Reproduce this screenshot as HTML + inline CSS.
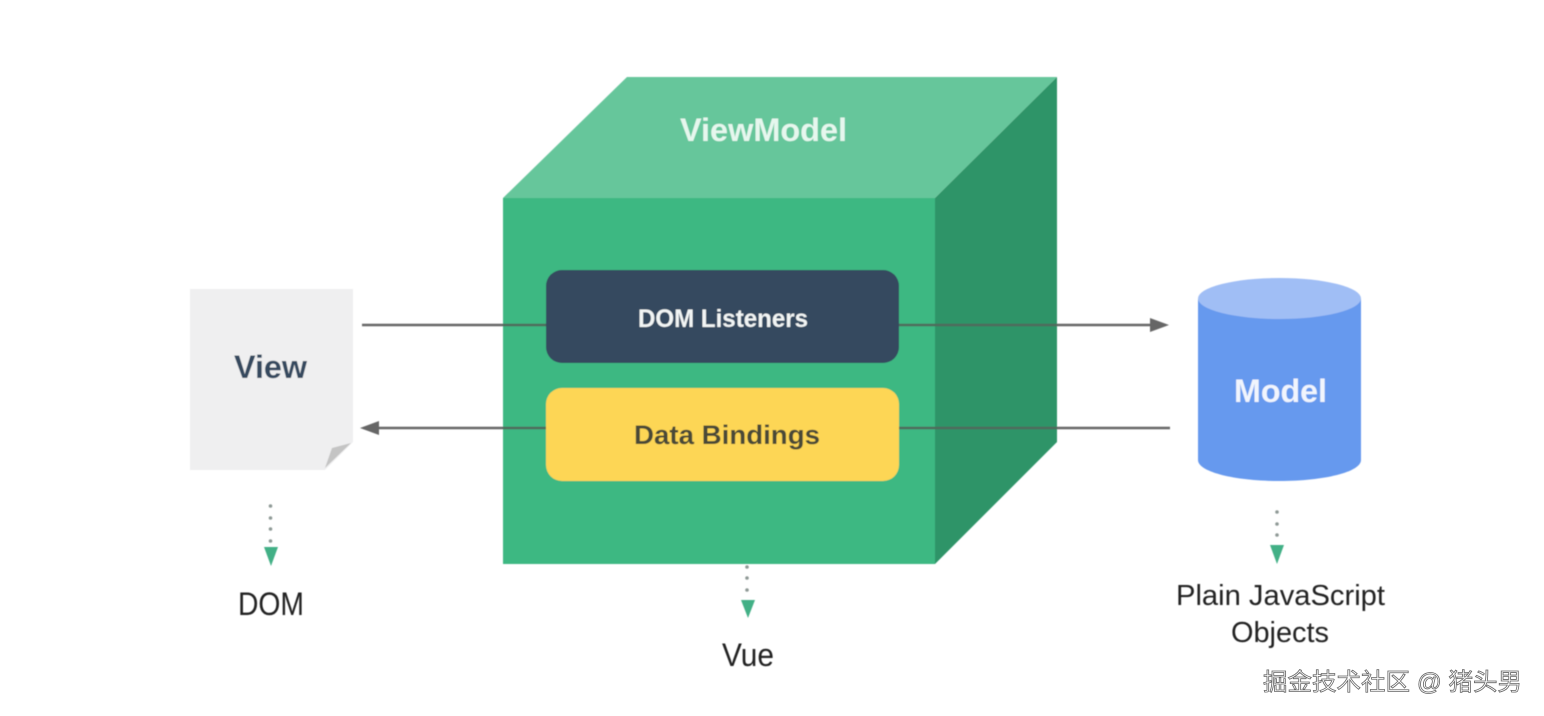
<!DOCTYPE html>
<html lang="zh">
<head>
<meta charset="utf-8">
<title>MVVM diagram</title>
<style>
html,body{margin:0;padding:0;background:#fff;width:1544px;height:716px;overflow:hidden}
svg{display:block}
text{font-family:"Liberation Sans","Noto Sans CJK SC",sans-serif}
</style>
</head>
<body>
<svg width="1544" height="716" viewBox="0 0 1544 716" xmlns="http://www.w3.org/2000/svg">
  <defs><filter id="soft" x="-2%" y="-2%" width="104%" height="104%"><feGaussianBlur stdDeviation="0.5"/></filter></defs>
  <rect width="1544" height="716" fill="#fff"/>

  <g filter="url(#soft)">
  <!-- Cube -->
  <polygon points="503,198 627,77 1057,77 935,198" fill="#66c69b"/>
  <polygon points="935,198 1057,77 1057,442 935,564" fill="#2f9468"/>
  <rect x="503" y="198" width="432" height="366" fill="#3eb882"/>

  <!-- Connectors -->
  <g stroke="#666" stroke-width="2.6" fill="none">
    <line x1="362" y1="325" x2="503" y2="325"/>
    <line x1="1057" y1="325" x2="1152" y2="325"/>
    <line x1="376" y1="428" x2="503" y2="428"/>
    <line x1="1057" y1="428" x2="1170" y2="428"/>
  </g>
  <g stroke="#4f6a5c" stroke-width="2.4" fill="none">
    <line x1="503" y1="325" x2="548" y2="325"/>
    <line x1="897" y1="325" x2="1057" y2="325"/>
    <line x1="503" y1="428" x2="548" y2="428"/>
    <line x1="897" y1="428" x2="1057" y2="428"/>
  </g>
  <polygon points="1169,325 1150,318 1150,332" fill="#666"/>
  <polygon points="360,428 379,421 379,435" fill="#666"/>

  <!-- Inner boxes -->
  <rect x="546" y="270" width="353" height="93" rx="16" fill="#35495e"/>
  <rect x="546" y="388" width="353" height="93" rx="16" fill="#fdd655"/>

  <!-- View page -->
  <polygon points="190,289 353,289 353,442 325,470 190,470" fill="#efeff0"/>
  <polygon points="325,468 351,443 332,448" fill="#c4c4c4"/>

  <!-- Model cylinder -->
  <path d="M1198,299 V460 C1198,472 1235,481 1279.5,481 C1324,481 1361,472 1361,460 V299 Z" fill="#6699ee"/>
  <ellipse cx="1279.5" cy="298.500" rx="81.500" ry="20.500" fill="#a0bef5"/>

  <!-- Dotted down arrows -->
  <g fill="#8f9a96">
    <circle cx="270.500" cy="506" r="1.800"/><circle cx="270.500" cy="518" r="1.800"/><circle cx="270.500" cy="529" r="1.800"/><circle cx="270.500" cy="541" r="1.800"/>
    <circle cx="1277" cy="512" r="1.800"/><circle cx="1277" cy="524" r="1.800"/><circle cx="1277" cy="535" r="1.800"/>
    <circle cx="747" cy="567" r="1.800"/><circle cx="747" cy="578" r="1.800"/><circle cx="747" cy="590" r="1.800"/>
  </g>
  <g fill="#42b086">
    <polygon points="264,547 278,547 271,566"/>
    <polygon points="1270,545 1284,545 1277,564"/>
    <polygon points="741,600 755,600 748,618"/>
  </g>

  <!-- Labels -->
  <g font-weight="700">
    <text x="680" y="141" font-size="32" fill="#e6f7ee" textLength="167" lengthAdjust="spacingAndGlyphs">ViewModel</text>
    <text x="638" y="327" font-size="25" fill="#f2f5f5" textLength="170" lengthAdjust="spacingAndGlyphs">DOM Listeners</text>
    <text x="634" y="444" font-size="27" fill="#4a4a38" textLength="186" lengthAdjust="spacingAndGlyphs">Data Bindings</text>
    <text x="234" y="378" font-size="32" fill="#35495e" textLength="73" lengthAdjust="spacingAndGlyphs">View</text>
    <text x="1234" y="402" font-size="32" fill="#f1f5fd" textLength="93" lengthAdjust="spacingAndGlyphs">Model</text>
  </g>
  <g fill="#222">
    <text x="238" y="615" font-size="32" textLength="66" lengthAdjust="spacingAndGlyphs">DOM</text>
    <text x="722" y="666" font-size="32" textLength="52" lengthAdjust="spacingAndGlyphs">Vue</text>
    <text x="1176" y="605" font-size="29" textLength="209" lengthAdjust="spacingAndGlyphs">Plain JavaScript</text>
    <text x="1231" y="642" font-size="29" textLength="98" lengthAdjust="spacingAndGlyphs">Objects</text>
  </g>
  </g>

  <!-- Watermark -->
  <text x="1263" y="690" font-size="24" fill="#fff" stroke="#666" stroke-width="0.8" textLength="259" lengthAdjust="spacingAndGlyphs">掘金技术社区 @ 猪头男</text>
</svg>
</body>
</html>
